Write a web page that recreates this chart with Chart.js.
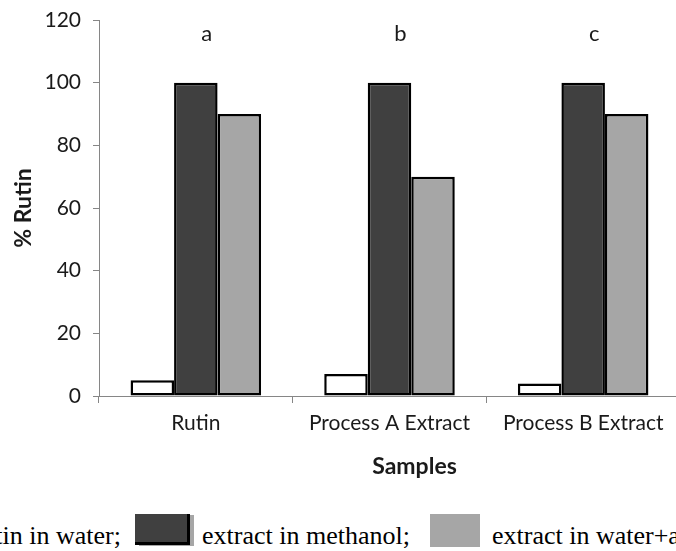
<!DOCTYPE html>
<html>
<head>
<meta charset="utf-8">
<script src="https://cdn.jsdelivr.net/npm/chart.js@4/dist/chart.umd.min.js"></script>
<style>
  html, body { margin: 0; padding: 0; background: #fff; }
  #wrap { position: relative; width: 676px; height: 551px; overflow: hidden; background: #fff; }
  #box { position: absolute; left: 0; top: 0; width: 680px; height: 500px; }
  .lt { position: absolute; top: 523px; white-space: nowrap; line-height: 26px;
        font-family: "Liberation Serif", "DejaVu Serif", serif; font-size: 26px; color: #000; }
  .sw { position: absolute; }
</style>
</head>
<body>
<div id="wrap">
  <div id="box"><canvas id="c"></canvas></div>
  <div id="legend"></div>
</div>
<script>
const categories = ['Rutin', 'Process A Extract', 'Process B Extract'];
const waterValues = [5, 7, 4];
const methanolValues = [100, 100, 100];
const waterPlusValues = [90, 70, 90];
const groupLetters = ['a', 'b', 'c'];
const yTickValues = [0, 20, 40, 60, 80, 100, 120];
const seriesNames = ['Rutin in water', 'extract in methanol', 'extract in water+acetone'];
const legendTexts = ['tin in water;', 'extract in methanol;', 'extract in water+a'];
const xTitle = 'Samples';
const yTitle = '% Rutin';

const fontFam = 'Lato, "Open Sans", sans-serif';
const textColor = '#1a1a1a';

const annotPlugin = {
  id: 'annot',
  afterDraw(chart) {
    const ctx = chart.ctx;
    const xs = chart.scales.x, ys = chart.scales.y;
    ctx.save();
    ctx.fillStyle = textColor;
    ctx.textAlign = 'center';
    ctx.textBaseline = 'middle';
    ctx.font = '22px ' + fontFam;
    groupLetters.forEach((l, i) => {
      ctx.fillText(l, xs.getPixelForValue(i) + 11, ys.getPixelForValue(115.5));
    });
    ctx.font = 'bold 23px ' + fontFam;
    ctx.fillText(xTitle, (xs.left + xs.right) / 2 + 25, xs.top + 71);
    ctx.restore();
  }
};

new Chart(document.getElementById('c'), {
  type: 'bar',
  data: {
    labels: categories,
    datasets: [
      { label: seriesNames[0], data: waterValues, backgroundColor: '#ffffff' },
      { label: seriesNames[1], data: methanolValues, backgroundColor: '#404040' },
      { label: seriesNames[2], data: waterPlusValues, backgroundColor: '#a6a6a6' }
    ]
  },
  options: {
    responsive: true,
    maintainAspectRatio: false,
    animation: false,
    layout: { padding: { top: 20, right: 0, left: 0, bottom: 0 } },
    datasets: {
      bar: {
        borderColor: '#000000',
        borderWidth: 2.5,
        borderSkipped: false,
        categoryPercentage: 0.674,
        barPercentage: 1
      }
    },
    plugins: { legend: { display: false }, tooltip: { enabled: false } },
    scales: {
      x: {
        grid: { display: true, drawOnChartArea: false, offset: true, color: '#868686', tickLength: 7 },
        border: { display: true, color: '#868686', width: 1 },
        ticks: { color: textColor, font: { family: fontFam, size: 21 }, padding: 8, maxRotation: 0 },
        afterFit(s) { s.height = 104; s.paddingLeft = 0; s.paddingRight = 0; }
      },
      y: {
        min: 0, max: 120,
        afterBuildTicks(s) { s.ticks = yTickValues.map(v => ({ value: v })); },
        grid: { display: true, drawOnChartArea: false, color: '#868686', tickLength: 6 },
        border: { display: true, color: '#868686', width: 1 },
        ticks: { color: textColor, font: { family: fontFam, size: 21 }, padding: 12 },
        title: { display: true, text: yTitle, color: textColor, font: { family: fontFam, size: 23, weight: 'bold' }, padding: { top: 10, bottom: 0 } },
        afterFit(s) { s.width = 99; s.paddingTop = 0; s.paddingBottom = 0; }
      }
    }
  },
  plugins: [annotPlugin]
});

// caption legend (outside the chart, partially cropped like the reference)
const wrap = document.getElementById('wrap');
function addText(t, left, right) {
  const d = document.createElement('div');
  d.className = 'lt';
  d.textContent = t;
  if (right !== undefined) { d.style.right = (676 - right) + 'px'; d.style.textAlign = 'right'; }
  else d.style.left = left + 'px';
  wrap.appendChild(d);
}
function addSwatch(left, top, w, h, css) {
  const d = document.createElement('div');
  d.className = 'sw';
  d.style.left = left + 'px'; d.style.top = top + 'px';
  d.style.width = w + 'px'; d.style.height = h + 'px';
  Object.assign(d.style, css);
  wrap.appendChild(d);
}
addText(legendTexts[0], undefined, 121);
addSwatch(135, 514, 52, 28, { background: '#404040', borderRight: '3px solid #000', borderBottom: '3px solid #000', boxShadow: '4px 1px 0 #a6a6a6' });
addText(legendTexts[1], 202);
addSwatch(430, 514, 50, 33, { background: '#a6a6a6' });
addText(legendTexts[2], 492);
</script>
</body>
</html>
